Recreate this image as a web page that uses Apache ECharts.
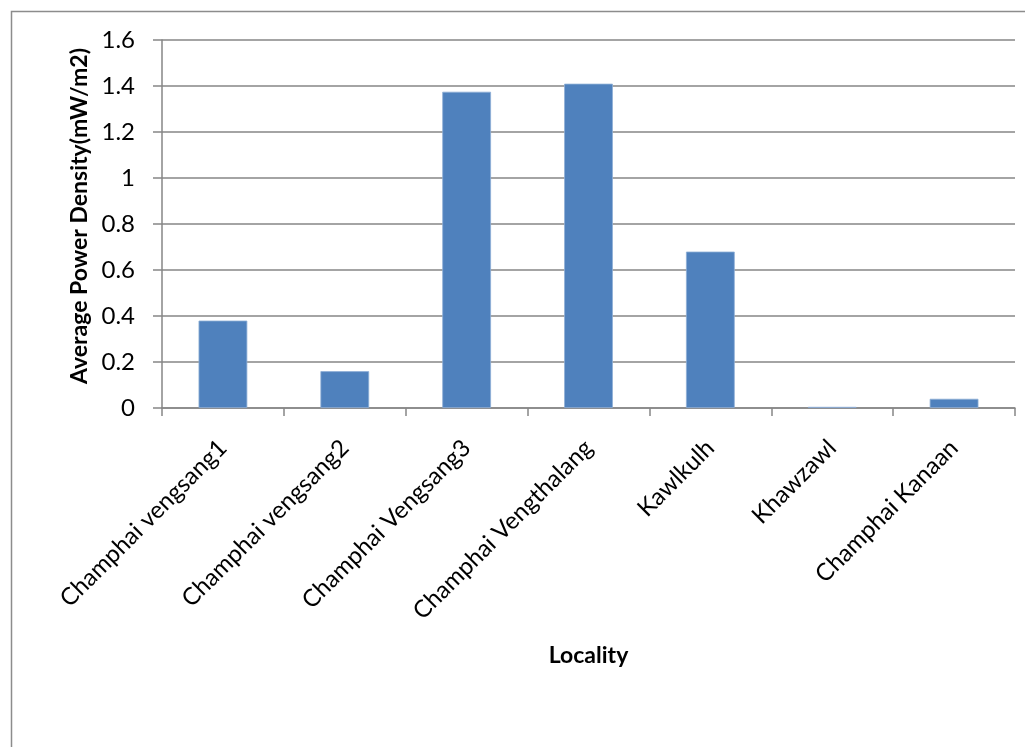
<!DOCTYPE html>
<html>
<head>
<meta charset="utf-8">
<style>
  html, body { margin: 0; padding: 0; background: #ffffff; }
  #chart { width: 1025px; height: 747px; }
</style>
<script src="https://cdn.jsdelivr.net/npm/echarts@6/dist/echarts.min.js"></script>
</head>
<body>
<div id="chart"></div>
<script>
// Localities surveyed and their average RF power density
const localities = [
  'Champhai vengsang1',
  'Champhai vengsang2',
  'Champhai Vengsang3',
  'Champhai Vengthalang',
  'Kawlkulh',
  'Khawzawl',
  'Champhai Kanaan'
];
const powerDensity = [0.38, 0.16, 1.375, 1.41, 0.68, 0.005, 0.04];
const yTicks = [0, 0.2, 0.4, 0.6, 0.8, 1, 1.2, 1.4, 1.6];

const FONT = 'Lato, "Open Sans", sans-serif';
const AXIS_GREY = '#868686';

const chart = echarts.init(document.getElementById('chart'), null, { renderer: 'canvas' });

chart.setOption({
  backgroundColor: '#ffffff',
  animation: false,
  graphic: [{
    type: 'rect',
    left: 9, top: 9,
    shape: { width: 1100, height: 800 },
    style: { fill: 'none', stroke: '#8c8c8c', lineWidth: 1.5 },
    silent: true
  }],
  grid: { left: 162, top: 40, right: 10, bottom: 339, containLabel: false },
  xAxis: {
    type: 'category',
    data: localities,
    name: 'Locality',
    nameLocation: 'middle',
    nameGap: 236,
    nameTextStyle: { fontFamily: FONT, fontSize: 23, fontWeight: 'bold', color: '#000' },
    axisLine: { lineStyle: { color: AXIS_GREY, width: 1.5 } },
    axisTick: { show: true, length: 8, lineStyle: { color: AXIS_GREY, width: 1.5 } },
    axisLabel: {
      rotate: 45,
      interval: 0,
      margin: 36,
      fontFamily: FONT,
      fontSize: 24,
      color: '#000'
    }
  },
  yAxis: {
    type: 'value',
    min: yTicks[0],
    max: yTicks[yTicks.length - 1],
    interval: 0.2,
    name: 'Average Power Density(mW/m2)',
    nameLocation: 'middle',
    nameGap: 70,
    nameTextStyle: {
      fontFamily: FONT, fontSize: 23, fontWeight: 'bold', color: '#000',
      padding: [0, 0, 0, 16]
    },
    axisLine: { show: true, lineStyle: { color: AXIS_GREY, width: 1.5 } },
    axisTick: { show: true, length: 9, inside: false, lineStyle: { color: AXIS_GREY, width: 1.5 } },
    splitLine: { show: true, lineStyle: { color: AXIS_GREY, width: 1.5 } },
    axisLabel: {
      margin: 27,
      fontFamily: FONT,
      fontSize: 24,
      color: '#000',
      formatter: v => String(Math.round(v * 10) / 10)
    }
  },
  series: [{
    type: 'bar',
    data: powerDensity,
    barWidth: '40%',
    itemStyle: { color: '#4f81bd', borderColor: '#8eaed6', borderWidth: 0.8 }
  }]
});
</script>
</body>
</html>
